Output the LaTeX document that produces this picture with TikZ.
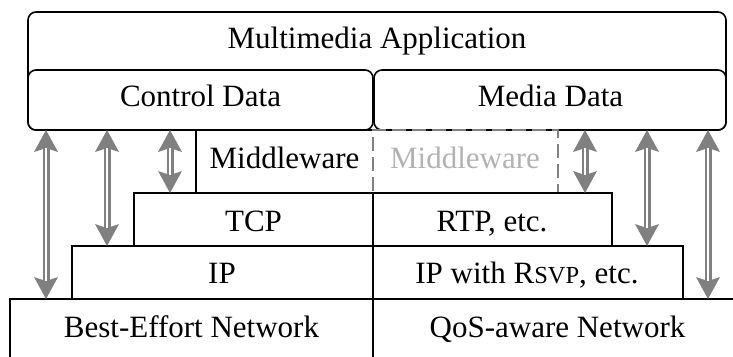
\documentclass[tikz,border=0pt]{standalone}
\usepackage{fontspec}
\setmainfont{Liberation Serif}
\usetikzlibrary{arrows.meta}
\begin{document}
\begin{tikzpicture}[x=1pt,y=-1pt,
  box/.style={draw=black, line width=1.6pt, rectangle, inner sep=0pt, outer sep=0pt, anchor=north west, fill=white},
  rbox/.style={box, rounded corners=8pt},
  lbl/.style={anchor=base, inner sep=0pt, font=\fontsize{31}{36}\selectfont},
  headtip/.tip={Stealth[length=22pt,width=24pt,inset=4pt,line width=0pt]},
  updown/.style={draw=black!50, line width=7pt, headtip-headtip,
    postaction={draw=white, line width=2.5pt, arrows=-, shorten <=18pt, shorten >=18pt}}
]
\path[use as bounding box] (0,0) rectangle (733,356);

% application
\node[rbox, minimum width=698pt, minimum height=118pt] (app) at (28,12) {};
\node[rbox, minimum width=345pt, minimum height=60pt] (cd) at (28,70) {};
\node[rbox, minimum width=352pt, minimum height=60pt] (md) at (374,70) {};

% middleware (solid, only left edge drawn)
\node[box, draw=none, fill=none, minimum width=177pt, minimum height=63pt] (mw) at (196,130) {};
\draw[line width=1.6pt] (mw.north west) -- (mw.south west);
% middleware (dashed)
\node[box, draw=black!50, fill=none, dash pattern=on 14pt off 6pt, line width=2pt, minimum width=185pt, minimum height=63pt] (mwd) at (373,130) {};

% layers
\node[box, minimum width=239pt, minimum height=53pt] (tcp) at (134,193) {};
\node[box, minimum width=239pt, minimum height=53pt] (rtp) at (373,193) {};
\node[box, minimum width=301pt, minimum height=53pt] (ip) at (72,246) {};
\node[box, minimum width=310pt, minimum height=53pt] (ipr) at (373,246) {};
\node[box, minimum width=363pt, minimum height=80pt] (be) at (10,299) {};
\node[box, minimum width=380pt, minimum height=80pt] (qos) at (373,299) {};

% labels
\node[lbl] (tapp) at (377,48) {Multimedia Application};
\node[lbl] (tcd) at (200.5,106) {Control Data};
\node[lbl] (tmd) at (550.5,106) {Media Data};
\node[lbl] (tmw) at (284.5,168) {Middleware};
\node[lbl, text=black!30] (tmwd) at (465,168) {Middleware};
\node[lbl] (ttcp) at (253.5,231) {TCP};
\node[lbl] (trtp) at (492,231) {RTP, etc.};
\node[lbl] (tip) at (222,283) {IP};
\node[lbl] (tipr) at (527,283) {IP with R{\fontsize{24.5}{28}\selectfont SVP}, etc.};
\node[lbl] (tbe) at (191.5,337) {Best-Effort Network};
\node[lbl] (tqos) at (557.5,337) {QoS-aware Network};

% arrows
\coordinate (x1) at (46,0);
\coordinate (x2) at (107,0);
\coordinate (x3) at (170,0);
\coordinate (x4) at (585,0);
\coordinate (x5) at (647,0);
\coordinate (x6) at (708,0);
\draw[updown] (x1 |- cd.south) -- (x1 |- be.north);
\draw[updown] (x2 |- cd.south) -- (x2 |- ip.north);
\draw[updown] (x3 |- cd.south) -- (x3 |- tcp.north);
\draw[updown] (x4 |- md.south) -- (x4 |- rtp.north);
\draw[updown] (x5 |- md.south) -- (x5 |- ipr.north);
\draw[updown] (x6 |- md.south) -- (x6 |- qos.north);
\end{tikzpicture}
\end{document}
